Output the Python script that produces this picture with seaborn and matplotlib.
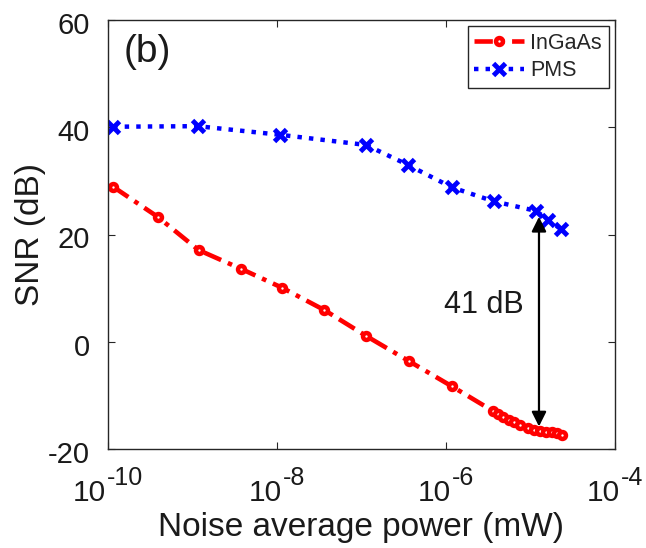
import numpy as np
import pandas as pd
import matplotlib
matplotlib.use("Agg")
import matplotlib.pyplot as plt
import matplotlib.transforms as mtransforms
import seaborn as sns
from matplotlib.ticker import FixedLocator, NullLocator, NullFormatter

# ---- data ----
ingaas_x = [1.15e-10, 3.87e-10, 1.18e-9, 3.75e-9, 1.14e-8, 3.64e-8, 1.13e-7, 3.63e-7,
            1.17e-6, 3.58e-6, 4.17e-6, 4.79e-6, 5.5e-6, 6.31e-6, 7.59e-6, 9.23e-6,
            1.1e-5, 1.29e-5, 1.51e-5, 1.79e-5, 2.04e-5, 2.38e-5]
ingaas_y = [28.9, 23.3, 17.1, 13.6, 10.1, 5.9, 1.1, -3.6,
            -8.3, -12.9, -13.5, -14.0, -14.5, -14.9, -15.5, -16.1,
            -16.4, -16.6, -16.8, -16.9, -17.1, -17.3]
pms_x = [1.15e-10, 1.15e-9, 1.08e-8, 1.13e-7, 3.52e-7, 1.17e-6, 3.65e-6, 1.16e-5, 1.62e-5, 2.29e-5]
pms_y = [40.1, 40.2, 38.6, 36.7, 33.0, 28.8, 26.2, 24.4, 22.7, 21.0]
series_names = ["InGaAs", "PMS"]
x_ticks = [1e-10, 1e-8, 1e-6, 1e-4]
x_tick_exponents = ["-10", "-8", "-6", "-4"]
y_ticks = [-20, 0, 20, 40, 60]
gap_x = 1.26e-5
gap_top, gap_bottom = 23.3, -15.8
gap_label = "41 dB"
panel_label = "(b)"

sns.set_theme(style="ticks")
plt.rcParams["font.family"] = ["Liberation Sans", "DejaVu Sans"]
plt.rcParams["axes.unicode_minus"] = False

TXT = "#1a1a1a"
fig = plt.figure(figsize=(6.46, 5.48), dpi=100)
ax = fig.add_axes([108/646, 1 - 449/548, (615-108)/646, (449-20)/548])
ax.set_xscale("log")

df_i = pd.DataFrame({"x": ingaas_x, "y": ingaas_y})
df_p = pd.DataFrame({"x": pms_x, "y": pms_y})

sns.lineplot(data=df_i, x="x", y="y", ax=ax, color="#ff0000", lw=3.3,
             linestyle=(0, (4, 1.6, 1, 1.6)), marker="o", markersize=5,
             markerfacecolor="white", markeredgecolor="#ff0000", markeredgewidth=3.2,
             label=series_names[0], sort=False)
sns.lineplot(data=df_p, x="x", y="y", ax=ax, color="#0000ff", lw=3.2,
             linestyle=(0, (1, 1.6)), marker="x", markersize=9,
             markeredgecolor="#0000ff", markeredgewidth=3.5,
             label=series_names[1], sort=False)

ax.set_xlim(1e-10, 1e-4)
ax.set_ylim(-20, 60)
ax.xaxis.set_major_locator(FixedLocator(x_ticks))
ax.xaxis.set_minor_locator(NullLocator())
ax.xaxis.set_major_formatter(NullFormatter())
ax.set_yticks(y_ticks)
ax.set_yticklabels([str(v) for v in y_ticks])

for s in ax.spines.values():
    s.set_color("#262626")
    s.set_linewidth(1.0)
ax.tick_params(axis="both", which="both", direction="in", length=5, width=0.8,
               color="#262626", top=True, right=True, labelcolor=TXT)
ax.tick_params(axis="y", labelsize=21, pad=13)
# MATLAB-style: y tick labels sit slightly below their ticks
offset = mtransforms.ScaledTranslation(0, -3/100, fig.dpi_scale_trans)
for lab in ax.get_yticklabels():
    lab.set_transform(lab.get_transform() + offset)

# x tick labels: "10" with a large superscript exponent, centred on each tick
xform = mtransforms.blended_transform_factory(ax.transData, ax.transAxes)
pairs = []
for xt, ex in zip(x_ticks, x_tick_exponents):
    b = ax.annotate("10", xy=(xt, 0), xycoords=xform, xytext=(0, -52),
                    textcoords="offset pixels", ha="left", va="baseline",
                    fontsize=21.5, color=TXT, annotation_clip=False)
    e = ax.annotate(ex, xy=(xt, 0), xycoords=xform, xytext=(0, -36),
                    textcoords="offset pixels", ha="left", va="baseline",
                    fontsize=18, color=TXT, annotation_clip=False)
    pairs.append((b, e))
fig.canvas.draw()
r = fig.canvas.get_renderer()
for b, e in pairs:
    wb = b.get_window_extent(r).width
    we = e.get_window_extent(r).width
    total = wb + 1 + we
    b.xyann = (-total / 2, -52)
    e.xyann = (-total / 2 + wb + 1, -36)

ax.set_xlabel("Noise average power (mW)", fontsize=24, color=TXT)
ax.xaxis.set_label_coords(0.5, (449 - 512) / 429)
ax.set_ylabel("SNR (dB)", fontsize=24, color=TXT)
ax.yaxis.set_label_coords((46 - 108) / 507, 0.5)

ax.annotate("", xy=(gap_x, gap_bottom), xytext=(gap_x, gap_top),
            arrowprops=dict(arrowstyle="<|-|>", color="black", lw=1.6,
                            mutation_scale=22, shrinkA=0, shrinkB=0))
ax.text(10**-5.08, 6.9, gap_label, ha="right", va="center", fontsize=22, color=TXT)
ax.text(10**-9.53, 54.0, panel_label, ha="center", va="center", fontsize=28, color=TXT)

leg = ax.legend(loc="upper right", fontsize=15.5, frameon=True, fancybox=False,
                framealpha=1, edgecolor="#262626", borderaxespad=0.3,
                handlelength=2.3, handletextpad=0.3, borderpad=0.3, labelspacing=0.3)
leg.get_frame().set_linewidth(1.0)

fig.savefig("out.png", dpi=100)
